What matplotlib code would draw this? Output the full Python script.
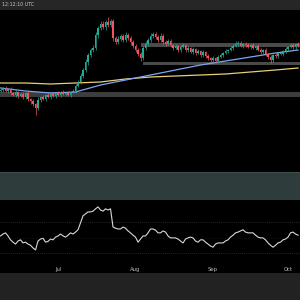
import numpy as np
import pandas as pd
import matplotlib
matplotlib.use("Agg")
import matplotlib.pyplot as plt
import matplotlib.dates as mdates

# daily candles, price in arbitrary chart units
dates = pd.date_range("2024-06-08", "2024-10-05", freq="D")

closes = [110, 112, 109, 111,
          107, 105, 108, 104, 106,
          103, 107, 101, 99, 96, 92,
          100, 103, 101, 105, 103, 106,
          104, 107, 105, 108, 106, 107, 105, 108, 109,
          114, 118, 124, 130,
          138, 145, 150, 152,
          165, 172, 176,
          173, 178, 175, 179,
          162,
          158, 161, 164, 160,
          165, 162, 158,
          154, 150, 146, 142,
          152, 156, 160,
          164, 166, 163,
          160, 164, 158, 156,
          159, 155, 152, 154, 150, 153,
          155, 150, 152, 148, 151, 147, 149, 145,
          148, 144, 142, 140,
          142, 139,
          143, 145, 147, 149, 150, 152, 154, 156,
          157, 154, 156, 155, 153,
          155, 152, 154, 150,
          148, 150, 146, 143,
          140, 145,
          144, 147, 146, 149,
          151, 153, 155, 153, 156, 154]

wick_hi = [2, 1, 2, 1,
           2, 1, 2, 1, 2,
           2, 1, 2, 1, 2, 1,
           3, 1, 2, 1, 2, 1,
           2, 1, 2, 1, 2, 1, 2, 1, 2,
           2, 2, 3, 2,
           3, 2, 2, 3,
           3, 2, 3,
           3, 2, 5, 2,
           2,
           2, 3, 2, 2,
           3, 2, 2,
           2, 2, 2, 2,
           2, 3, 2,
           3, 2, 2,
           2, 3, 2, 2,
           2, 2, 1, 2, 1, 2,
           2, 1, 2, 1, 2, 1, 2, 1,
           2, 1, 2, 1,
           2, 1,
           2, 2, 1, 2, 1, 2, 2, 3,
           2, 2, 1, 2, 2,
           1, 2, 1, 2,
           2, 1, 2, 1,
           2, 1,
           2, 1, 2, 1,
           2, 1, 2, 2, 1, 2]

wick_lo = [1, 2, 1, 2,
           2, 1, 2, 2, 1,
           2, 2, 2, 3, 2, 7,
           2, 2, 1, 2, 1, 2,
           1, 2, 1, 2, 1, 2, 1, 2, 1,
           2, 1, 2, 2,
           2, 3, 2, 2,
           2, 3, 2,
           2, 3, 2, 2,
           3,
           2, 2, 2, 2,
           2, 2, 3,
           2, 2, 2, 3,
           2, 2, 2,
           2, 2, 2,
           2, 2, 2, 2,
           1, 2, 2, 1, 2, 2,
           1, 2, 2, 1, 2, 2, 1, 2,
           2, 2, 2, 3,
           2, 2,
           2, 1, 2, 1, 2, 1, 2, 1,
           2, 1, 2, 2, 1,
           2, 1, 2, 1,
           2, 2, 2, 2,
           3, 2,
           2, 2, 1, 2,
           2, 2, 1, 2, 2, 1]

# moving averages, read every 10 days
ma_dates = pd.to_datetime(["2024-06-08", "2024-06-18", "2024-06-28", "2024-07-08",
                           "2024-07-18", "2024-07-28", "2024-08-07", "2024-08-17",
                           "2024-08-27", "2024-09-06", "2024-09-16", "2024-09-26",
                           "2024-10-05"])
ma_fast = [112, 109, 107, 108, 115, 120, 125, 130, 135, 139, 143, 147, 150]
ma_slow = [117, 117, 116, 117, 118, 121, 123, 124, 125, 126, 128, 130, 132]

# horizontal zones (low, high, start date)
zones = [(153, 157, "2024-08-03"), (135, 138, "2024-08-04"), (103.3, 107.7, "2024-06-07")]
demand_zone = (0, 28)

rsi = [52, 54.5, 56, 52, 47, 44, 41.5, 45.5, 47, 43,
       44, 41.5, 40, 36.5, 34, 45.5, 48, 49, 44, 45,
       48, 47, 50.5, 52, 54.5, 52, 50.5, 53, 56, 54.5,
       57, 60, 69, 78, 80.5, 83, 83, 84, 87, 89.5,
       85.5, 84, 87, 85.5, 87, 63.5, 62, 61, 61, 63.5,
       62, 58.5, 56, 53, 50.5, 44, 48, 52, 52, 56,
       61, 61, 59.5, 56, 56, 58.5, 57, 52, 49.5, 49.5,
       49.5, 48, 45.5, 43, 48, 49.5, 50.5, 49.5, 45.5, 44,
       47, 47, 44, 41.5, 39, 37.5, 41.5, 43, 43, 43,
       45.5, 47, 50.5, 53, 56, 57, 58.5, 60, 57, 56,
       56, 56, 53, 50.5, 49.5, 49.5, 47, 43, 40, 37.5,
       40, 43, 44, 47, 48, 50.5, 56, 57, 54.5, 53]

month_ticks = pd.to_datetime(["2024-07-01", "2024-08-01", "2024-09-01", "2024-10-01"])
month_labels = ["Jul", "Aug", "Sep", "Oct"]

UP = "#22ab94"
DOWN = "#f7525f"

fig = plt.figure(figsize=(3, 3), dpi=100, facecolor="#222222")

# top bar
top = fig.add_axes([0, 290 / 300, 1, 10 / 300])
top.set_facecolor("#262626")
top.set_xticks([]); top.set_yticks([])
for s in top.spines.values():
    s.set_visible(False)
top.text(0.006, 0.5, "12:12:10 UTC", color="#c8c8c8", fontsize=3.4,
         ha="left", va="center", transform=top.transAxes)

ax = fig.add_axes([0, 100 / 300, 1, 190 / 300])
ax.set_facecolor("black")
axr = fig.add_axes([0, 27 / 300, 1, 73 / 300], sharex=ax)
axr.set_facecolor("black")

x0 = mdates.date2num(pd.Timestamp("2024-06-07 19:00"))
x1 = mdates.date2num(pd.Timestamp("2024-10-05 19:00"))

# zones
for lo, hi, start in zones:
    s = mdates.date2num(pd.Timestamp(start))
    ax.fill_between([s, x1], lo, hi, color="#4a4a4a" if hi > 120 else "#3d3d3d",
                    lw=0, zorder=1)
ax.axhspan(demand_zone[0], demand_zone[1], color="#2f3c3c", lw=0, zorder=1)
ax.axhline(demand_zone[1], color="#3e4c4c", lw=0.8, zorder=1)

# moving averages
ax.plot(ma_dates, ma_slow, color="#e6cf78", lw=0.9, zorder=2)
ax.plot(ma_dates, ma_fast, color="#7ea6f5", lw=0.9, zorder=2)

# candles
opens = [closes[0] - 1] + closes[:-1]
xd = mdates.date2num(dates)
for xi, o, c, wh, wl in zip(xd, opens, closes, wick_hi, wick_lo):
    col = UP if c >= o else DOWN
    top_b, bot_b = max(o, c), min(o, c)
    ax.vlines(xi, bot_b - wl, top_b + wh, color=col, lw=0.5, zorder=3)
    ax.bar(xi, max(top_b - bot_b, 0.5), bottom=bot_b, width=0.72, color=col,
           lw=0, zorder=3)

ax.set_xlim(x0, x1)
ax.set_ylim(0, 190)

# RSI
axr.plot(dates, rsi, color="#d8d8d8", lw=0.8)
for lvl, a in [(70, 0.55), (50, 0.25), (30, 0.55)]:
    axr.axhline(lvl, color="#808080", lw=0.5, ls=(0, (1, 2)), alpha=a)
axr.set_ylim(4.2, 98.4)
for d, lab in zip(month_ticks, month_labels):
    axr.text(d, 0.05, lab, transform=axr.get_xaxis_transform(), color="#bdbdbd",
             fontsize=3.8, ha="center", va="center")

for a in (ax, axr):
    a.set_xticks([]); a.set_yticks([])
    for s in a.spines.values():
        s.set_visible(False)

fig.savefig("out.png", dpi=100, facecolor=fig.get_facecolor())
